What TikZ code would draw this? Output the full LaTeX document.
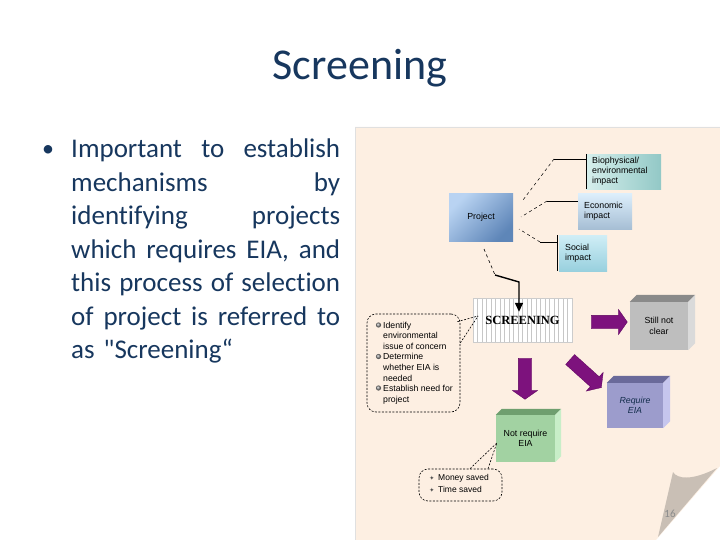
\documentclass[tikz,border=0pt]{standalone}
\usepackage{fontspec}
\setmainfont{Carlito}
\newfontfamily\bodyfont{Carlito}[Ligatures=NoCommon]
\newfontfamily\diafont{Liberation Sans}
\newfontfamily\symfont{DejaVu Sans}
\newfontfamily\stencilfont{Liberation Serif}
\usetikzlibrary{calc, positioning, shapes.arrows, arrows.meta}

\definecolor{titleblue}{HTML}{17375E}
\definecolor{paper}{HTML}{FDEFE2}
\definecolor{curl}{HTML}{C9BFB5}
\definecolor{projlight}{HTML}{B9D3F2}
\definecolor{projdark}{HTML}{5E86B8}
\definecolor{bioleft}{HTML}{D6EFEC}
\definecolor{bioright}{HTML}{92C8C6}
\definecolor{econtop}{HTML}{DDEFFC}
\definecolor{econbot}{HTML}{A6BED4}
\definecolor{soctop}{HTML}{D0EEF6}
\definecolor{socbot}{HTML}{98D0DE}
\definecolor{greyfront}{HTML}{BEBEBE}
\definecolor{greytop}{HTML}{8A8A8A}
\definecolor{greyside}{HTML}{DADADA}
\definecolor{lilacfront}{HTML}{9C9CCC}
\definecolor{lilactop}{HTML}{6A6A9A}
\definecolor{lilacside}{HTML}{C6C6EE}
\definecolor{greenfront}{HTML}{A2D2A2}
\definecolor{greentop}{HTML}{6F9F6F}
\definecolor{greenside}{HTML}{C8EEC8}
\definecolor{arrowpurple}{HTML}{7D127D}
\definecolor{arrowdark}{HTML}{5A005A}

\tikzset{
  flatbox/.style={inner xsep=6pt, inner ysep=0pt, align=left, text=black,
    font=\diafont\fontsize{8.8}{10}\selectfont},
  cubefront/.style={inner sep=0pt, align=center, text=black,
    font=\diafont\fontsize{8.8}{10.5}\selectfont},
  bubble/.style={draw, dash pattern=on 2pt off 1.5pt, line width=0.6pt,
    rounded corners=9pt, inner sep=0pt},
  bubbleline/.style={dash pattern=on 2pt off 1.5pt, line width=0.6pt},
  blockarrow/.style={single arrow, fill=arrowpurple, draw=arrowdark, line width=0.3pt,
    inner sep=0pt, inner ysep=6.5pt, single arrow head extend=6pt,
    single arrow tip angle=110, minimum height=36pt}
}

\begin{document}
\begin{tikzpicture}[x=1pt, y=-1pt]
  \useasboundingbox (0,0) rectangle (720,540);
  \fill[white] (0,0) rectangle (720,540);

  % title and text on the left
  \node[anchor=base, inner sep=0pt, text=titleblue, font=\bodyfont\fontsize{44}{53}\selectfont] (title) at (360,80) {Screening};
  \node[anchor=base, inner sep=0pt, text=titleblue, font=\bodyfont\fontsize{24}{33.5}\selectfont] (dot) at (48,157) {•};
  \node[anchor=base west, inner sep=0pt, text width=269pt, align=left, text=titleblue,
        font=\bodyfont\fontsize{27}{33.5}\selectfont] (body) at (71,158)
    {\makebox[269pt][l]{Important\hfill to\hfill establish}\\
     \makebox[269pt][l]{mechanisms\hfill by}\\
     \makebox[269pt][l]{identifying\hfill projects}\\
     \makebox[269pt][l]{which\hfill requires\hfill EIA,\hfill and}\\
     \makebox[269pt][l]{this\hfill process\hfill of\hfill selection}\\
     \makebox[269pt][l]{of\hfill project\hfill is\hfill referred\hfill to}\\
     as "Screening“};

  % the sheet with its curled corner
  \fill[paper] (355,127) -- (720,127) -- (720,466) -- (656,540) -- (355,540) -- cycle;
  \draw[black!12] (355,540) -- (355,127) -- (720,127);
  \fill[curl] (673,472) .. controls (677,479) and (692,481) .. (717,468) -- (658,537) -- cycle;
  \node[text=black!45, font=\fontsize{11}{13}\selectfont] (pagenum) at (670,514) {16};

  % project and impacts
  \node[flatbox, top color=projlight, bottom color=projdark, shading angle=45,
        minimum width=64pt, minimum height=47pt, align=center] (project) at (481,217.5) {Project};
  \node[flatbox, anchor=north west, left color=bioleft, right color=bioright,
        minimum height=35pt, text width=63pt] (bio) at (586,154) {Biophysical/\\environmental\\impact};
  \node[flatbox, anchor=north west, top color=econtop, bottom color=econbot,
        minimum height=36pt, text width=42pt] (econ) at (578,193) {Economic\\impact};
  \node[flatbox, anchor=north west, top color=soctop, bottom color=socbot,
        minimum height=36pt, text width=36pt] (social) at (559,235) {Social\\impact};

  \coordinate (bioA) at (554,159);
  \coordinate (bioB) at (523,200);
  \coordinate (econA) at (547,201);
  \coordinate (econB) at (521,217);
  \coordinate (socA) at (540,242);
  \coordinate (socB) at (519,229);
  \draw[line width=1pt] (bio.north west) -- (bio.south west);
  \draw[line width=0.8pt] (bio.west |- bioA) -- (bioA);
  \draw[dashed, line width=0.5pt] (bioA) -- (bioB);
  \draw[line width=0.8pt] (econ.west |- econA) -- (econA);
  \draw[dashed, line width=0.5pt] (econA) -- (econB);
  \draw[line width=1pt] ([xshift=-2pt]social.north west) -- ([xshift=-2pt]social.south west);
  \draw[line width=0.8pt] ([xshift=-2pt]social.west |- socA) -- (socA);
  \draw[dashed, line width=0.5pt] (socA) -- (socB);

  % screening
  \node[draw=black!20, fill=white, minimum width=99pt, minimum height=44pt,
        font=\stencilfont\bfseries\fontsize{12.5}{14}\selectfont,
        path picture={\foreach \k in {1,...,21}
          \draw[black!22, line width=0.4pt] ([xshift=\k*4.5pt]path picture bounding box.north west)
            -- ([xshift=\k*4.5pt]path picture bounding box.south west);}] (screening) at (522.5,320) {SCREENING};

  \coordinate (bendA) at (484,249);
  \coordinate (bendB) at (495,275);
  \coordinate (bendC) at (519,282);
  \coordinate (scrin) at ($(screening.north)+(-3.5,14)$);
  \draw[dashed, line width=0.6pt] (bendA) -- (bendB);
  \draw[line width=1.4pt, -{Triangle[length=9pt, width=8pt]}] (bendB) -- (bendC) -- (scrin);

  % what screening has to find out
  \node[bubble, minimum width=93pt, minimum height=98pt] (issuebub) at (413.5,363) {};
  \coordinate (issuetip) at (478,316);
  \draw[bubbleline] ($(issuebub.north east)+(-3,8)$) -- (issuetip);
  \draw[bubbleline] ($(issuebub.east)+(0,-20)$) -- (issuetip);
  \node[anchor=north west, inner sep=0pt, align=left,
        font=\diafont\fontsize{8.7}{10.6}\selectfont] (issuetxt) at (383,321.5)
    {Identify\\environmental\\issue of concern\\Determine\\whether EIA is\\needed\\Establish need for\\project};
  \foreach \y in {325,356.5,388}
    \shade[ball color=black!45] (378.5,\y) circle (2.6pt);

  % outcomes
  \node[cubefront, fill=greyfront, minimum width=58pt, minimum height=48pt] (unclear) at (659,326) {Still not\\clear};
  \fill[greytop] (unclear.north west) -- ++(7,-7) -- ($(unclear.north east)+(7,-7)$) -- (unclear.north east) -- cycle;
  \fill[greyside] (unclear.north east) -- ++(7,-7) -- ($(unclear.south east)+(7,-7)$) -- (unclear.south east) -- cycle;

  \node[cubefront, fill=lilacfront, minimum width=56pt, minimum height=45pt,
        text=titleblue!80!black, font=\diafont\itshape\fontsize{8.8}{10.5}\selectfont] (needeia) at (635,405.5) {Require\\EIA};
  \fill[lilactop] (needeia.north west) -- ++(7,-7) -- ($(needeia.north east)+(7,-7)$) -- (needeia.north east) -- cycle;
  \fill[lilacside] (needeia.north east) -- ++(7,-7) -- ($(needeia.south east)+(7,-7)$) -- (needeia.south east) -- cycle;

  \node[cubefront, fill=greenfront, minimum width=59pt, minimum height=47pt] (noeia) at (525.5,438.5) {Not require\\EIA};
  \fill[greentop] (noeia.north west) -- ++(6,-6) -- ($(noeia.north east)+(6,-6)$) -- (noeia.north east) -- cycle;
  \fill[greenside] (noeia.north east) -- ++(6,-6) -- ($(noeia.south east)+(6,-6)$) -- (noeia.south east) -- cycle;

  \node[blockarrow] (tounclear) at (607,322) {};
  \node[blockarrow, minimum height=41pt, rotate=-90] (tonoeia) at (525,376.5) {};
  \node[blockarrow, minimum height=42pt, rotate=-42] (toneedeia) at (584,372) {};

  % savings
  \node[bubble, minimum width=83pt, minimum height=32pt] (savebub) at (460.5,485) {};
  \coordinate (savetip) at ($(noeia.west)+(1,4.5)$);
  \draw[bubbleline] ($(savebub.north)+(9.5,0)$) -- (savetip);
  \draw[bubbleline] ($(savebub.north)+(27.5,0)$) -- (savetip);
  \node[anchor=north west, inner sep=0pt, align=left,
        font=\diafont\fontsize{8.5}{12}\selectfont] (savetxt) at (438,474) {Money saved\\Time saved};
  \foreach \y in {478,490}
    \node[text=black!70, inner sep=0pt, font=\symfont\fontsize{6}{7}\selectfont] at (432,\y) {✦};
\end{tikzpicture}
\end{document}
